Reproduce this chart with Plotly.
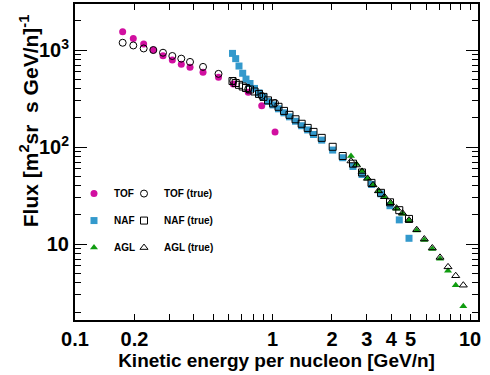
import plotly.graph_objects as go

# ---------------- data ----------------
tof_E = [0.1743, 0.1973, 0.2227, 0.2492, 0.2790, 0.3110, 0.3453, 0.3823,
         0.4449, 0.5328, 0.633, 0.754, 0.882, 1.03]
tof_flux = [1540, 1315, 1152, 1000, 874, 791, 713, 664, 590, 524, 447, 367, 267, 143]
tof_true_flux = [1188, 1114, 1038, 1000, 938, 868, 815, 754, 670, 568, 480, 397, 337, 284]

naf_E = [0.6272, 0.6511, 0.6767, 0.7065, 0.7342, 0.7694, 0.8110, 0.8544, 0.9004,
         0.9489, 1.0058, 1.0725, 1.1434, 1.2194, 1.3079, 1.405, 1.507, 1.613,
         1.775, 2.017, 2.267, 2.556, 2.840, 3.171, 3.543, 3.935, 4.385, 4.911]
naf_flux = [923, 815, 684, 576, 502, 452, 402, 361, 325, 296, 272, 248, 225.5, 205,
            184.6, 166, 150.3, 134.9, 118, 93.2, 77.7, 63.2, 52.3, 41.3, 33.0, 24.9,
            17.8, 11.5]
naf_true_flux = [479, 457, 438, 421, 406, 392, 374, 353, 329, 303, 282, 260, 236, 215,
                 193.5, 174, 157.6, 143.4, 124.5, 100.7, 80.9, 67.5, 54.8, 42.8, 33.8,
                 27.0, 22.4, 18.2]

agl_E = [2.497, 2.663, 2.840, 3.027, 3.227, 3.441, 3.690, 3.958, 4.245, 4.551,
         4.911, 5.372, 5.870, 6.445, 7.050, 7.739, 8.465, 9.250]
agl_flux = [80.9, 67.0, 56.8, 47.6, 40.4, 35.0, 30.4, 26.4, 23.2, 20.6, 17.5, 13.8,
            11.04, 8.93, 7.06, 5.32, 3.78, 2.30]
agl_true_flux = [71.9, 65.4, 56.1, 47.6, 40.8, 35.4, 30.8, 26.7, 23.5, 20.9, 17.7,
                 14.1, 11.3, 9.14, 7.31, 5.84, 4.73, 3.78]

x_label_vals = [0.1, 0.2, 1, 2, 3, 4, 5, 10]
x_label_text = ["0.1", "0.2", "1", "2", "3", "4", "5", "10"]
x_major_vals = [0.1, 1, 10]
x_minor_vals = [0.3, 0.4, 0.5, 0.6, 0.7, 0.8, 0.9, 6, 7, 8, 9]
y_major_vals = [10, 100, 1000]
y_major_text = ["10", "10<sup>2</sup>", "10<sup>3</sup>"]
y_minor_vals = [2, 3, 4, 5, 6, 7, 8, 9, 20, 30, 40, 50, 60, 70, 80, 90,
                200, 300, 400, 500, 600, 700, 800, 900, 2000, 3000]

MAGENTA = "#d10fa0"
BLUE = "#3399cc"
GREEN = "#109c10"
FONT = "Liberation Sans"

fig = go.Figure()

def add(x, y, name, symbol, color, size, legend, group, line_w=0):
    fig.add_trace(go.Scatter(
        x=x, y=y, mode="markers", name=name, legend=legend, legendgroup=group,
        marker=dict(symbol=symbol, color=color, size=size,
                    line=dict(width=line_w, color=color)),
    ))

add(tof_E, tof_flux, "TOF", "circle", MAGENTA, 7, "legend", "a")
add(naf_E, naf_flux, "NAF", "square", BLUE, 7, "legend", "b")
add(agl_E, agl_flux, "AGL", "triangle-up", GREEN, 7, "legend", "c")
add(tof_E, tof_true_flux, "TOF (true)", "circle-open", "black", 7, "legend2", "d", 1)
add(naf_E, naf_true_flux, "NAF (true)", "square-open", "black", 7, "legend2", "e", 1)
add(agl_E, agl_true_flux, "AGL (true)", "triangle-up-open", "black", 7, "legend2", "f", 1)

legend_common = dict(
    font=dict(family=FONT, size=10, color="black", weight="bold"),
    bgcolor="rgba(0,0,0,0)", traceorder="grouped", tracegroupgap=8,
    xanchor="left", yanchor="top", itemwidth=30,
)

fig.update_layout(
    width=490, height=375,
    margin=dict(l=75, r=12, t=2, b=55),
    paper_bgcolor="white", plot_bgcolor="white",
    showlegend=True,
    legend=dict(x=-0.0025, y=0.446, **legend_common),
    legend2=dict(x=0.1216, y=0.446, **legend_common),
    xaxis=dict(
        type="log", range=[-1, 1.0405],
        tickmode="array", tickvals=x_label_vals, ticktext=x_label_text,
        ticks="inside", ticklen=6, tickwidth=1, tickcolor="black",
        showline=True, linewidth=2, linecolor="black", mirror="ticks",
        showgrid=False, zeroline=False,
        tickfont=dict(family=FONT, size=20, color="black", weight="bold"),
        minor=dict(tickmode="array", tickvals=x_minor_vals, ticks="inside",
                   ticklen=6, tickwidth=1, tickcolor="black", showgrid=False),
        title=dict(text="Kinetic energy per nucleon [GeV/n]", standoff=4,
                   font=dict(family=FONT, size=19, color="black", weight="bold")),
    ),
    xaxis2=dict(
        type="log", range=[-1, 1.0405], overlaying="x", anchor="y", side="bottom",
        tickmode="array", tickvals=x_major_vals, showticklabels=False,
        ticks="inside", ticklen=12, tickwidth=1, tickcolor="black",
        showline=True, linewidth=2, linecolor="black", mirror="ticks",
        showgrid=False, zeroline=False,
    ),
    yaxis=dict(
        type="log", range=[0.219, 3.474],
        tickmode="array", tickvals=y_major_vals, ticktext=y_major_text,
        ticks="inside", ticklen=12, tickwidth=1, tickcolor="black",
        showline=True, linewidth=2, linecolor="black", mirror="ticks",
        showgrid=False, zeroline=False,
        tickfont=dict(family=FONT, size=20, color="black", weight="bold"),
        minor=dict(tickmode="array", tickvals=y_minor_vals, ticks="inside",
                   ticklen=6, tickwidth=1, tickcolor="black", showgrid=False),
    ),
    annotations=[dict(
        text="Flux [m<sup>2</sup>sr&nbsp;&nbsp;s GeV/n]<sup>-1</sup>",
        textangle=-90, xref="paper", yref="paper", x=-0.112, y=0.975,
        xanchor="center", yanchor="top", showarrow=False,
        font=dict(family=FONT, size=21, color="black", weight="bold"),
    )],
)

fig.write_html(
    "out.html",
    config={"displayModeBar": False},
    post_script="document.body.style.margin='0';document.body.style.padding='0';",
)
